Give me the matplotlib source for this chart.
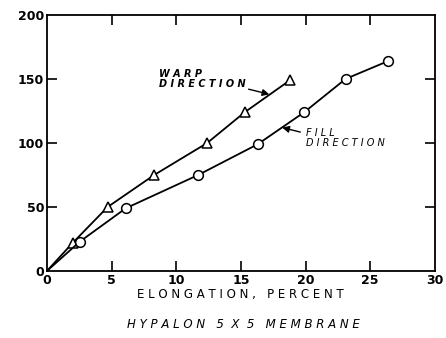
import matplotlib.pyplot as plt

# warp direction (triangles)
warp_x = [0, 2.0, 4.7, 8.3, 12.4, 15.3, 18.8]
warp_y = [0, 22, 50, 75, 100, 124, 149]

# fill direction (circles)
fill_x = [0, 2.55, 6.1, 11.7, 16.3, 19.9, 23.1, 26.4]
fill_y = [0, 23, 49, 75, 99, 124, 150, 164]

xticks = [0, 5, 10, 15, 20, 25, 30]
yticks = [0, 50, 100, 150, 200]

fig = plt.figure(figsize=(4.46, 3.38), dpi=100)
ax = fig.add_axes([0.105, 0.198, 0.87, 0.758])

ax.plot(warp_x, warp_y, color='black', lw=1.3, marker='^', ms=7,
        mfc='white', mec='black', mew=1.1, markevery=list(range(1, len(warp_x))))
ax.plot(fill_x, fill_y, color='black', lw=1.3, marker='o', ms=7,
        mfc='white', mec='black', mew=1.1, markevery=list(range(1, len(fill_x))))

ax.set_xlim(0, 30)
ax.set_ylim(0, 200)
ax.set_xticks(xticks)
ax.set_yticks(yticks)
ax.set_xticklabels([str(t) for t in xticks], fontweight='bold', fontsize=9)
ax.set_yticklabels([str(t) for t in yticks], fontweight='bold', fontsize=9)
ax.tick_params(direction='in', length=7, width=1.2, top=True, right=True, pad=2)
# no tick marks at the corners
for axis in (ax.xaxis, ax.yaxis):
    ticks = axis.get_major_ticks()
    for t in (ticks[0], ticks[-1]):
        t.tick1line.set_visible(False)
        t.tick2line.set_visible(False)
for s in ax.spines.values():
    s.set_linewidth(1.3)

ax.set_xlabel('E L O N G A T I O N ,   P E R C E N T', fontsize=8.5, labelpad=1)
fig.text(0.545, 0.03, 'H Y P A L O N   5  X  5   M E M B R A N E', ha='center',
         fontsize=8.5, style='italic')

ax.text(8.7, 150, 'W A R P\nD I R E C T I O N', fontsize=7, style='italic',
        fontweight='bold', va='center', ha='left', linespacing=1.0)
ax.annotate('', xy=(17.2, 138), xytext=(15.6, 142),
            arrowprops=dict(arrowstyle='-|>', color='black', lw=1, shrinkA=0, shrinkB=0))
ax.text(20.0, 104, 'F I L L\nD I R E C T I O N', fontsize=7, style='italic',
        va='center', ha='left', linespacing=1.0)
ax.annotate('', xy=(18.2, 112), xytext=(19.6, 108.5),
            arrowprops=dict(arrowstyle='-|>', color='black', lw=1, shrinkA=0, shrinkB=0))

plt.savefig('out.png', dpi=100)
